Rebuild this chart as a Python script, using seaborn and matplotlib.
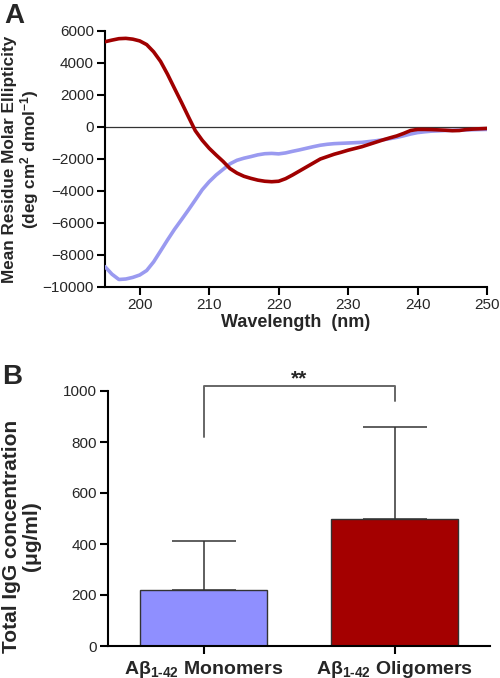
import matplotlib
matplotlib.use("Agg")
import matplotlib.pyplot as plt
import seaborn as sns
import pandas as pd

# panel A: CD spectra
wavelength = list(range(195, 251))
oligomer_cd = [5330, 5430, 5520, 5540, 5490, 5380, 5150, 4700, 4100, 3300,
               2420, 1550, 650, -230, -830, -1330, -1750, -2150, -2600, -2880,
               -3080, -3210, -3320, -3390, -3420, -3390, -3230, -3000, -2750, -2500,
               -2250, -2000, -1850, -1700, -1580, -1450, -1340, -1230, -1090, -950,
               -810, -680, -560, -400, -220, -150, -150, -160, -180, -200,
               -230, -220, -160, -130, -110, -90]
monomer_cd = [-8730, -9200, -9530, -9500, -9400, -9250, -8970, -8430, -7750, -7060,
              -6400, -5800, -5190, -4560, -3920, -3420, -3000, -2650, -2300, -2080,
              -1950, -1850, -1740, -1670, -1650, -1680, -1620, -1520, -1430, -1330,
              -1230, -1140, -1080, -1040, -1020, -1000, -980, -960, -910, -860,
              -800, -730, -650, -550, -440, -350, -300, -260, -240, -220,
              -210, -195, -185, -170, -160, -150]

# panel B: IgG concentration
groups = ["Aβ$_{1\\text{-}42}$ Monomers", "Aβ$_{1\\text{-}42}$ Oligomers"]
igg_mean = [220, 498]
igg_err = [192, 361]
bracket_left, bracket_top, bracket_right = 820, 1020, 960

blue_line, red_line = "#9a9af0", "#a00000"
blue_bar, red_bar = "#8f8fff", "#a40000"

sns.set_style("ticks")
plt.rcParams["font.family"] = ["Liberation Sans", "DejaVu Sans"]
plt.rcParams["mathtext.fontset"] = "custom"
plt.rcParams["mathtext.rm"] = "Liberation Sans:bold"
plt.rcParams["mathtext.default"] = "rm"
plt.rcParams["axes.linewidth"] = 1.5

fig = plt.figure(figsize=(5, 6.78), dpi=100)

# ---- panel A ----
ax1 = fig.add_axes([105 / 500, 1 - 287 / 678, 382 / 500, 256 / 678])
cd = pd.DataFrame({"Wavelength": wavelength * 2,
                   "Ellipticity": monomer_cd + oligomer_cd,
                   "Form": ["Monomers"] * len(wavelength) + ["Oligomers"] * len(wavelength)})
ax1.axhline(0, color="#333333", lw=0.9, zorder=1)
sns.lineplot(data=cd, x="Wavelength", y="Ellipticity", hue="Form",
             palette=[blue_line, red_line], linewidth=2.6, legend=False, ax=ax1, zorder=3)
ax1.set_xlim(195, 250)
ax1.set_ylim(-10000, 6000)
ax1.set_xticks(range(200, 251, 10))
ax1.set_yticks(range(-10000, 6001, 2000))
ax1.tick_params(width=1.5, length=6, labelsize=11, pad=2, color="black")
ax1.set_xlabel("Wavelength  (nm)", fontsize=13, fontweight="bold")
ax1.set_ylabel("Mean Residue Molar Ellipticity\n(deg cm$^2$ dmol$^{-1}$)",
               fontsize=12.3, fontweight="bold", linespacing=1.05)
ax1.xaxis.set_label_coords(0.5, -0.105)
ax1.yaxis.set_label_coords(-0.168, 0.5)
sns.despine(ax=ax1)
for s in ax1.spines.values():
    s.set_color("black")

# ---- panel B ----
ax2 = fig.add_axes([108 / 500, 1 - 646 / 678, 382 / 500, 255 / 678])
bars = pd.DataFrame({"Group": groups, "IgG": igg_mean})
sns.barplot(data=bars, x="Group", y="IgG", hue="Group",
            palette=[blue_bar, red_bar], width=0.665, saturation=1, legend=False,
            edgecolor="#333333", linewidth=1.0, ax=ax2, zorder=2)
ax2.errorbar(x=[0, 1], y=igg_mean, yerr=[[0, 0], igg_err], fmt="none",
             ecolor="#333333", elinewidth=1.1, capsize=23, capthick=1.1, zorder=1)
ax2.plot([0, 0, 1, 1], [bracket_left, bracket_top, bracket_top, bracket_right],
         color="#666666", lw=1.4, clip_on=False)
ax2.text(0.5, 1010, "**", ha="center", va="bottom", fontsize=15, fontweight="bold")
ax2.set_xlim(-0.5, 1.5)
ax2.set_ylim(0, 1000)
ax2.set_yticks(range(0, 1001, 200))
ax2.tick_params(width=1.5, length=6, labelsize=11, pad=2, color="black")
ax2.tick_params(axis="x", labelsize=14, pad=3)
for lab in ax2.get_xticklabels():
    lab.set_fontweight("bold")
ax2.set_xlabel("")
ax2.set_ylabel("Total IgG concentration\n(μg/ml)", fontsize=15,
               fontweight="bold", linespacing=1.1)
ax2.yaxis.set_label_coords(-0.175, 0.43)
sns.despine(ax=ax2)
for s in ax2.spines.values():
    s.set_color("black")

fig.text(0.008, 0.996, "A", fontsize=20, fontweight="bold", va="top")
fig.text(0.004, 1 - 364 / 678, "B", fontsize=20, fontweight="bold", va="top")

fig.savefig("out.png", dpi=100)
